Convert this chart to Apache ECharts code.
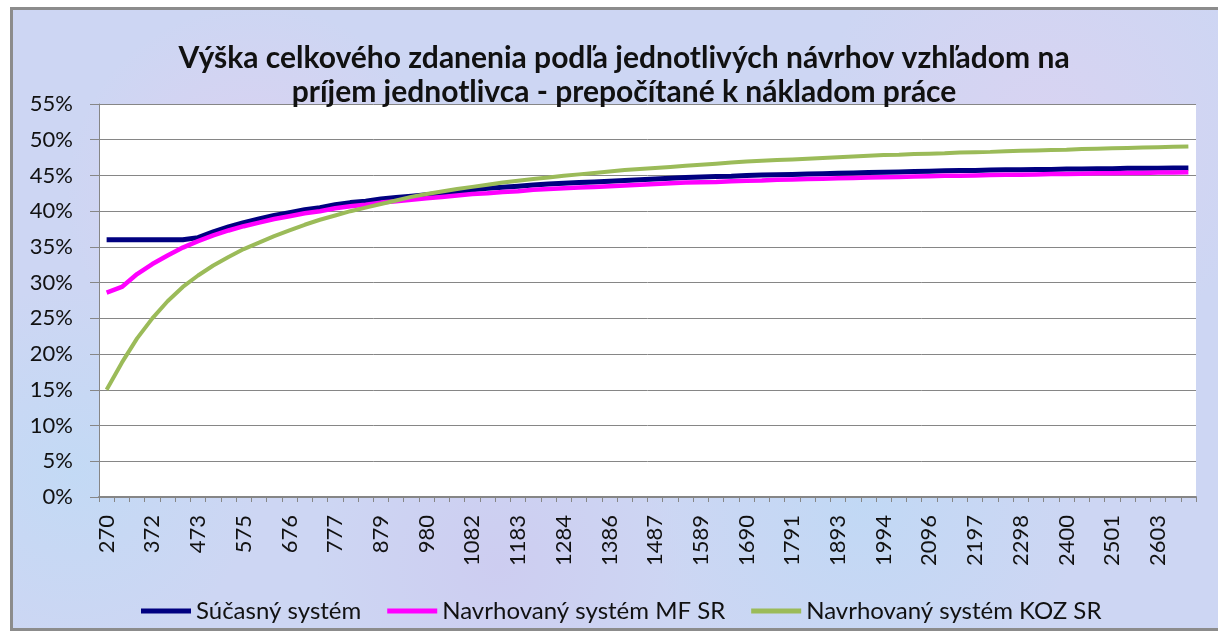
<!DOCTYPE html>
<html>
<head>
<meta charset="utf-8">
<script src="https://cdn.jsdelivr.net/npm/echarts@6/dist/echarts.min.js"></script>
<style>
  html, body { margin: 0; padding: 0; background: #ffffff; }
  #bg {
    position: absolute; left: 10px; top: 7px; width: 1220px; height: 624px;
    border: 3px solid #8c8c8c; box-sizing: border-box;
    background-color: #cdd6f3;
    background-image:
      radial-gradient(circle at 20% 30%, rgba(232,204,238,0.55) 0, rgba(232,204,238,0) 18%),
      radial-gradient(circle at 70% 80%, rgba(185,218,246,0.6) 0, rgba(185,218,246,0) 22%),
      radial-gradient(circle at 85% 20%, rgba(228,208,240,0.5) 0, rgba(228,208,240,0) 20%),
      radial-gradient(circle at 40% 90%, rgba(205,196,238,0.5) 0, rgba(205,196,238,0) 20%),
      radial-gradient(circle at 5% 75%, rgba(188,220,246,0.6) 0, rgba(188,220,246,0) 15%);
  }
  #chart { position: absolute; left: 0; top: 0; width: 1218px; height: 641px; }
</style>
</head>
<body>
<div id="bg"></div>
<div id="chart"></div>
<script>
const titleText = 'Výška celkového zdanenia podľa jednotlivých návrhov vzhľadom na\npríjem jednotlivca - prepočítané k nákladom práce';

const seriesNames = ['Súčasný systém', 'Navrhovaný systém MF SR', 'Navrhovaný systém KOZ SR'];

const categories = [
  270, 304, 338, 372, 406, 439, 473, 507, 541, 575, 608, 642,
  676, 710, 744, 777, 811, 845, 879, 913, 946, 980, 1014, 1048,
  1082, 1115, 1149, 1183, 1217, 1251, 1284, 1318, 1352, 1386, 1420, 1453,
  1487, 1521, 1555, 1589, 1622, 1656, 1690, 1724, 1758, 1791, 1825, 1859,
  1893, 1927, 1960, 1994, 2028, 2062, 2096, 2129, 2163, 2197, 2231, 2265,
  2298, 2332, 2366, 2400, 2434, 2467, 2501, 2535, 2569, 2603, 2636, 2670
];

const sucasny = [
  36.0, 36.0, 36.0, 36.0, 36.0, 36.0, 36.3, 37.1, 37.8, 38.4, 38.9, 39.4,
  39.8, 40.2, 40.5, 40.9, 41.2, 41.4, 41.7, 41.9, 42.1, 42.3, 42.5, 42.7,
  43.0, 43.2, 43.35, 43.5, 43.65, 43.8, 43.9, 44.0, 44.1, 44.2, 44.3, 44.4,
  44.5, 44.6, 44.7, 44.8, 44.85, 44.9, 45.0, 45.05, 45.1, 45.15, 45.2, 45.25,
  45.3, 45.35, 45.4, 45.45, 45.5, 45.55, 45.6, 45.65, 45.7, 45.7, 45.75, 45.8,
  45.8, 45.85, 45.85, 45.9, 45.9, 45.95, 45.95, 46.0, 46.0, 46.0, 46.05, 46.05
];

const mfsr = [
  28.6, 29.4, 31.2, 32.6, 33.8, 34.9, 35.8, 36.6, 37.3, 37.9, 38.4, 38.9,
  39.3, 39.7, 40.0, 40.4, 40.7, 40.9, 41.2, 41.4, 41.6, 41.8, 42.0, 42.2,
  42.4, 42.5, 42.7, 42.8, 43.0, 43.1, 43.2, 43.3, 43.4, 43.5, 43.6, 43.7,
  43.8, 43.9, 44.0, 44.05, 44.1, 44.2, 44.25, 44.3, 44.4, 44.45, 44.5, 44.55,
  44.6, 44.65, 44.7, 44.75, 44.8, 44.85, 44.9, 44.95, 44.95, 45.0, 45.05, 45.1,
  45.1, 45.15, 45.2, 45.2, 45.25, 45.3, 45.3, 45.35, 45.35, 45.4, 45.4, 45.45
];

const kozsr = [
  15.0, 18.8, 22.2, 25.0, 27.4, 29.4, 31.0, 32.4, 33.6, 34.7, 35.6, 36.5,
  37.3, 38.1, 38.8, 39.4, 40.0, 40.5, 41.0, 41.5, 42.0, 42.4, 42.75, 43.1,
  43.4, 43.7, 44.0, 44.25, 44.5, 44.7, 44.95, 45.15, 45.35, 45.55, 45.75, 45.9,
  46.05, 46.2, 46.35, 46.5, 46.65, 46.8, 46.95, 47.05, 47.15, 47.25, 47.35, 47.45,
  47.55, 47.65, 47.75, 47.85, 47.9, 48.0, 48.05, 48.1, 48.2, 48.25, 48.3, 48.4,
  48.45, 48.5, 48.55, 48.6, 48.7, 48.75, 48.8, 48.85, 48.9, 48.95, 49.0, 49.05
];

const yMin = 0, yMax = 55, yStep = 5;

const chart = echarts.init(document.getElementById('chart'), null, { renderer: 'canvas' });
const FONT = 'Lato';
const gridColor = '#868686';

chart.setOption({
  backgroundColor: 'transparent',
  animation: false,
  title: {
    text: titleText,
    left: 619,
    textAlign: 'center',
    top: 36,
    textStyle: {
      fontFamily: FONT, fontSize: 30, fontWeight: 'bold', color: '#111', lineHeight: 34
    }
  },
  legend: {
    left: 136,
    top: 594,
    icon: 'rect',
    itemWidth: 50,
    itemHeight: 5,
    itemGap: 26,
    textStyle: { fontFamily: FONT, fontSize: 24, color: '#111' },
    data: seriesNames
  },
  grid: {
    left: 99, top: 104, right: 22, bottom: 144,
    show: true, backgroundColor: '#ffffff', borderWidth: 0
  },
  xAxis: {
    type: 'category',
    data: categories,
    boundaryGap: true,
    axisLine: { show: true, lineStyle: { color: gridColor, width: 2 } },
    axisTick: { show: true, interval: 0, length: 5, lineStyle: { color: gridColor } },
    axisLabel: {
      interval: 2, rotate: 90, margin: 18,
      fontFamily: FONT, fontSize: 22, color: '#111'
    },
    splitLine: { show: false }
  },
  yAxis: {
    type: 'value',
    min: yMin, max: yMax, interval: yStep,
    axisLine: { show: true, lineStyle: { color: gridColor, width: 1 } },
    axisTick: { show: true, length: 9, lineStyle: { color: gridColor } },
    axisLabel: {
      formatter: '{value}%', margin: 26,
      fontFamily: FONT, fontSize: 22, color: '#111'
    },
    splitLine: { show: true, lineStyle: { color: gridColor, width: 1 } }
  },
  series: [
    { name: seriesNames[0], type: 'line', data: sucasny, showSymbol: false, symbol: 'none',
      color: '#000080', lineStyle: { color: '#000080', width: 5 }, z: 2 },
    { name: seriesNames[1], type: 'line', data: mfsr, showSymbol: false, symbol: 'none',
      color: '#ff00ff', lineStyle: { color: '#ff00ff', width: 4.5 }, z: 3 },
    { name: seriesNames[2], type: 'line', data: kozsr, showSymbol: false, symbol: 'none',
      color: '#9bbb59', lineStyle: { color: '#9bbb59', width: 4 }, z: 4 }
  ]
});
</script>
</body>
</html>
